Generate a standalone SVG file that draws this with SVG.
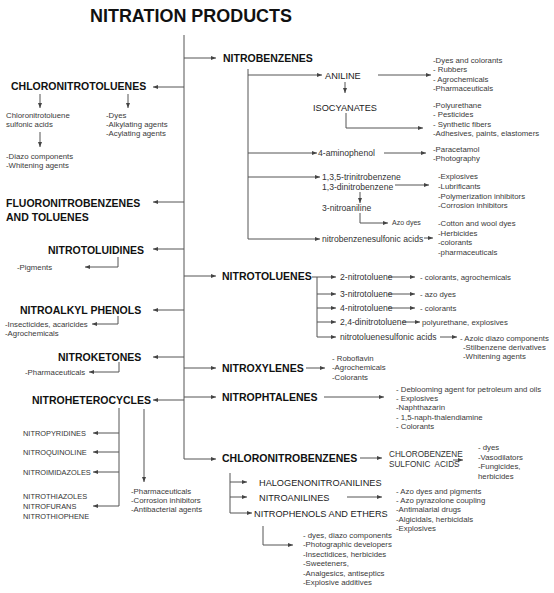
<svg xmlns="http://www.w3.org/2000/svg" width="554" height="593" viewBox="0 0 554 593">
<defs>
<style>
text{font-family:"Liberation Sans",Arial,sans-serif}
.t{font-size:19px;font-weight:bold;fill:#111}
.h{font-size:10.5px;font-weight:bold;fill:#111}
.c{font-size:9.2px;fill:#222}
.cs{font-size:7.4px;fill:#333}
.cb{font-size:8.2px;fill:#333}
.m{font-size:8.6px;fill:#333}
.s{font-size:7.8px;fill:#3a3a3a}
.xs{font-size:7px;fill:#3a3a3a}
.ln{stroke:#555;stroke-width:1;fill:none}
.a{marker-end:url(#ah)}
</style>
<marker id="ah" markerWidth="5" markerHeight="4" refX="5" refY="2" orient="auto" markerUnits="userSpaceOnUse">
<path d="M0,0 L5,2 L0,4 z" fill="#444"/>
</marker>
</defs>
<rect width="554" height="593" fill="#fff"/>
<g id="title"><text class="t" x="90" y="22" textLength="202" lengthAdjust="spacingAndGlyphs">NITRATION PRODUCTS</text></g>

<g id="connectors">
<path class="ln a" d="M184,35 V459 H216"/>
<path class="ln a" d="M184,58 H216"/>
<path class="ln a" d="M184,276 H216"/>
<path class="ln a" d="M184,368 H216"/>
<path class="ln a" d="M184,397 H216"/>
<path class="ln a" d="M184,87 H153"/>
<path class="ln a" d="M184,202 H153"/>
<path class="ln a" d="M184,249 H153"/>
<path class="ln a" d="M184,310 H153"/>
<path class="ln a" d="M184,357 H153"/>
<path class="ln a" d="M184,400 H153"/>
<path class="ln a" d="M40,94 V108"/>
<path class="ln a" d="M128,94 V108"/>
<path class="ln a" d="M40,132 V147"/>
<path class="ln a" d="M118,257 V267 H85"/>
<path class="ln a" d="M118,316 V324 H92"/>
<path class="ln a" d="M119,362 V372 H89"/>
<path class="ln a" d="M119,408 V506 H93"/>
<path class="ln a" d="M119,433 H93"/>
<path class="ln a" d="M119,452 H93"/>
<path class="ln a" d="M119,472 H93"/>
<path class="ln a" d="M144,409 V482"/>
<path class="ln a" d="M248,69 V239 H320"/>
<path class="ln a" d="M248,75 H322"/>
<path class="ln a" d="M248,153 H317"/>
<path class="ln a" d="M248,177 H320"/>
<path class="ln a" d="M378,75 H431"/>
<path class="ln a" d="M345,82 V93"/>
<path class="ln a" d="M346,113 V128 H423"/>
<path class="ln a" d="M384,153 H426"/>
<path class="ln a" d="M395,185 H429"/>
<path class="ln a" d="M360,192 V203"/>
<path class="ln a" d="M360,213 V223 H388"/>
<path class="ln a" d="M424,238 H433"/>
<path class="ln a" d="M312,277 H336"/>
<path class="ln a" d="M317,277 V337 H336"/>
<path class="ln a" d="M317,294 H336"/>
<path class="ln a" d="M317,308 H336"/>
<path class="ln a" d="M317,322 H336"/>
<path class="ln a" d="M388,277 H415"/>
<path class="ln a" d="M388,294 H415"/>
<path class="ln a" d="M388,308 H415"/>
<path class="ln a" d="M402,322 H420"/>
<path class="ln a" d="M440,337 H457"/>
<path class="ln a" d="M306,368 H325"/>
<path class="ln a" d="M324,397 H384"/>
<path class="ln a" d="M360,458 H382"/>
<path class="ln a" d="M453,460 H463"/>
<path class="ln a" d="M230,473 V513 H252"/>
<path class="ln a" d="M230,482 H247"/>
<path class="ln a" d="M230,497 H247"/>
<path class="ln a" d="M347,497 H382"/>
<path class="ln a" d="M263,526 V545 H293"/>
</g>

<g id="chloronitrotoluenes">
<text class="h" x="11" y="90">CHLORONITROTOLUENES</text>
<text class="s" x="6" y="118">Chloronitrotoluene</text>
<text class="s" x="6" y="127">sulfonic acids</text>
<text class="s" x="106" y="118">-Dyes</text>
<text class="s" x="106" y="127">-Alkylating agents</text>
<text class="s" x="106" y="136">-Acylating agents</text>
<text class="s" x="6" y="159">-Diazo components</text>
<text class="s" x="6" y="168">-Whitening agents</text>
</g>
<g id="fluoronitrobenzenes">
<text class="h" x="6" y="207">FLUORONITROBENZENES</text>
<text class="h" x="6" y="221">AND TOLUENES</text>
</g>
<g id="nitrotoluidines">
<text class="h" x="48" y="254">NITROTOLUIDINES</text>
<text class="s" x="17" y="270">-Pigments</text>
</g>
<g id="nitroalkylphenols">
<text class="h" x="20" y="314">NITROALKYL PHENOLS</text>
<text class="s" x="5" y="327">-Insecticides, acaricides</text>
<text class="s" x="5" y="336">-Agrochemicals</text>
</g>
<g id="nitroketones">
<text class="h" x="58" y="361">NITROKETONES</text>
<text class="s" x="25" y="375">-Pharmaceuticals</text>
</g>
<g id="nitroheterocycles">
<text class="h" x="32" y="404">NITROHETEROCYCLES</text>
<text class="cs" x="23" y="436">NITROPYRIDINES</text>
<text class="cs" x="23" y="455">NITROQUINOLINE</text>
<text class="cs" x="23" y="475">NITROIMIDAZOLES</text>
<text class="cs" x="23" y="499">NITROTHIAZOLES</text>
<text class="cs" x="23" y="509">NITROFURANS</text>
<text class="cs" x="23" y="519">NITROTHIOPHENE</text>
<text class="s" x="131" y="494">-Pharmaceuticals</text>
<text class="s" x="131" y="503">-Corrosion inhibitors</text>
<text class="s" x="131" y="512">-Antibacterial agents</text>
</g>

<g id="nitrobenzenes">
<text class="h" x="223" y="62">NITROBENZENES</text>
<text class="c" x="325" y="78.5">ANILINE</text>
<text class="s" x="433" y="63">-Dyes and colorants</text>
<text class="s" x="433" y="72">- Rubbers</text>
<text class="s" x="433" y="82">- Agrochemicals</text>
<text class="s" x="433" y="91">-Pharmaceuticals</text>
<text class="c" x="313" y="110.5">ISOCYANATES</text>
<text class="s" x="433" y="108">-Polyurethane</text>
<text class="s" x="433" y="117.3">- Pesticides</text>
<text class="s" x="433" y="126.6">- Synthetic fibers</text>
<text class="s" x="433" y="136">-Adhesives, paints, elastomers</text>
<text class="m" x="318" y="156">4-aminophenol</text>
<text class="s" x="433" y="152">-Paracetamol</text>
<text class="s" x="433" y="161">-Photography</text>
<text class="m" x="322" y="180">1,3,5-trinitrobenzene</text>
<text class="m" x="322" y="190">1,3-dinitrobenzene</text>
<text class="s" x="438" y="179">-Explosives</text>
<text class="s" x="438" y="189">-Lubrificants</text>
<text class="s" x="438" y="198.5">-Polymerization inhibitors</text>
<text class="s" x="438" y="208">-Corrosion inhibitors</text>
<text class="m" x="322" y="211">3-nitroaniline</text>
<text class="xs" x="392" y="225">Azo dyes</text>
<text class="m" x="322" y="242">nitrobenzenesulfonic acids</text>
<text class="s" x="438" y="226">-Cotton and wool dyes</text>
<text class="s" x="438" y="235.5">-Herbicides</text>
<text class="s" x="438" y="245">-colorants</text>
<text class="s" x="438" y="254.5">-pharmaceuticals</text>
</g>

<g id="nitrotoluenes">
<text class="h" x="222" y="280">NITROTOLUENES</text>
<text class="m" x="340" y="280">2-nitrotoluene</text>
<text class="m" x="340" y="297">3-nitrotoluene</text>
<text class="m" x="340" y="311">4-nitrotoluene</text>
<text class="m" x="340" y="325">2,4-dinitrotoluene</text>
<text class="m" x="340" y="340">nitrotoluenesulfonic acids</text>
<text class="s" x="420" y="280">- colorants, agrochemicals</text>
<text class="s" x="420" y="297">- azo dyes</text>
<text class="s" x="420" y="311">- colorants</text>
<text class="s" x="422" y="325">polyurethane, explosives</text>
<text class="s" x="460" y="341">- Azoic diazo components</text>
<text class="s" x="463" y="350">-Stilbenzene derivatives</text>
<text class="s" x="463" y="359">-Whitening agents</text>
</g>

<g id="nitroxylenes">
<text class="h" x="222" y="372">NITROXYLENES</text>
<text class="s" x="332" y="361">- Roboflavin</text>
<text class="s" x="332" y="370">-Agrochemicals</text>
<text class="s" x="332" y="380">-Colorants</text>
</g>

<g id="nitrophtalenes">
<text class="h" x="222" y="401">NITROPHTALENES</text>
<text class="s" x="396" y="392">- Deblooming agent for petroleum and oils</text>
<text class="s" x="396" y="401">- Explosives</text>
<text class="s" x="396" y="410">-Naphthazarin</text>
<text class="s" x="396" y="420">- 1,5-naph-thalendiamine</text>
<text class="s" x="396" y="429">- Colorants</text>
</g>

<g id="chloronitrobenzenes">
<text class="h" x="222" y="462">CHLORONITROBENZENES</text>
<text class="cb" x="389" y="457">CHLOROBENZENE</text>
<text class="cb" x="389" y="467" xml:space="preserve">SULFONIC  ACIDS</text>
<text class="s" x="478" y="450">- dyes</text>
<text class="s" x="478" y="460">-Vasodilators</text>
<text class="s" x="478" y="469">-Fungicides,</text>
<text class="s" x="478" y="479">herbicides</text>
</g>
<g id="halogenonitroanilines"><text class="c" x="259" y="485.5">HALOGENONITROANILINES</text></g>
<g id="nitroanilines">
<text class="c" x="259" y="500.5">NITROANILINES</text>
<text class="s" x="396" y="494">- Azo dyes and pigments</text>
<text class="s" x="396" y="503">- Azo pyrazolone coupling</text>
<text class="s" x="396" y="512">-Antimalarial drugs</text>
<text class="s" x="396" y="522">-Algicidals, herbicidals</text>
<text class="s" x="396" y="531">-Explosives</text>
</g>
<g id="nitrophenols">
<text class="c" x="254" y="516.5">NITROPHENOLS AND ETHERS</text>
<text class="s" x="303" y="538">- dyes, diazo components</text>
<text class="s" x="303" y="547">-Photographic developers</text>
<text class="s" x="303" y="557">-Insectidices, herbicides</text>
<text class="s" x="303" y="566">-Sweeteners,</text>
<text class="s" x="303" y="576">-Analgesics, antiseptics</text>
<text class="s" x="303" y="585">-Explosive additives</text>
</g>
</svg>
